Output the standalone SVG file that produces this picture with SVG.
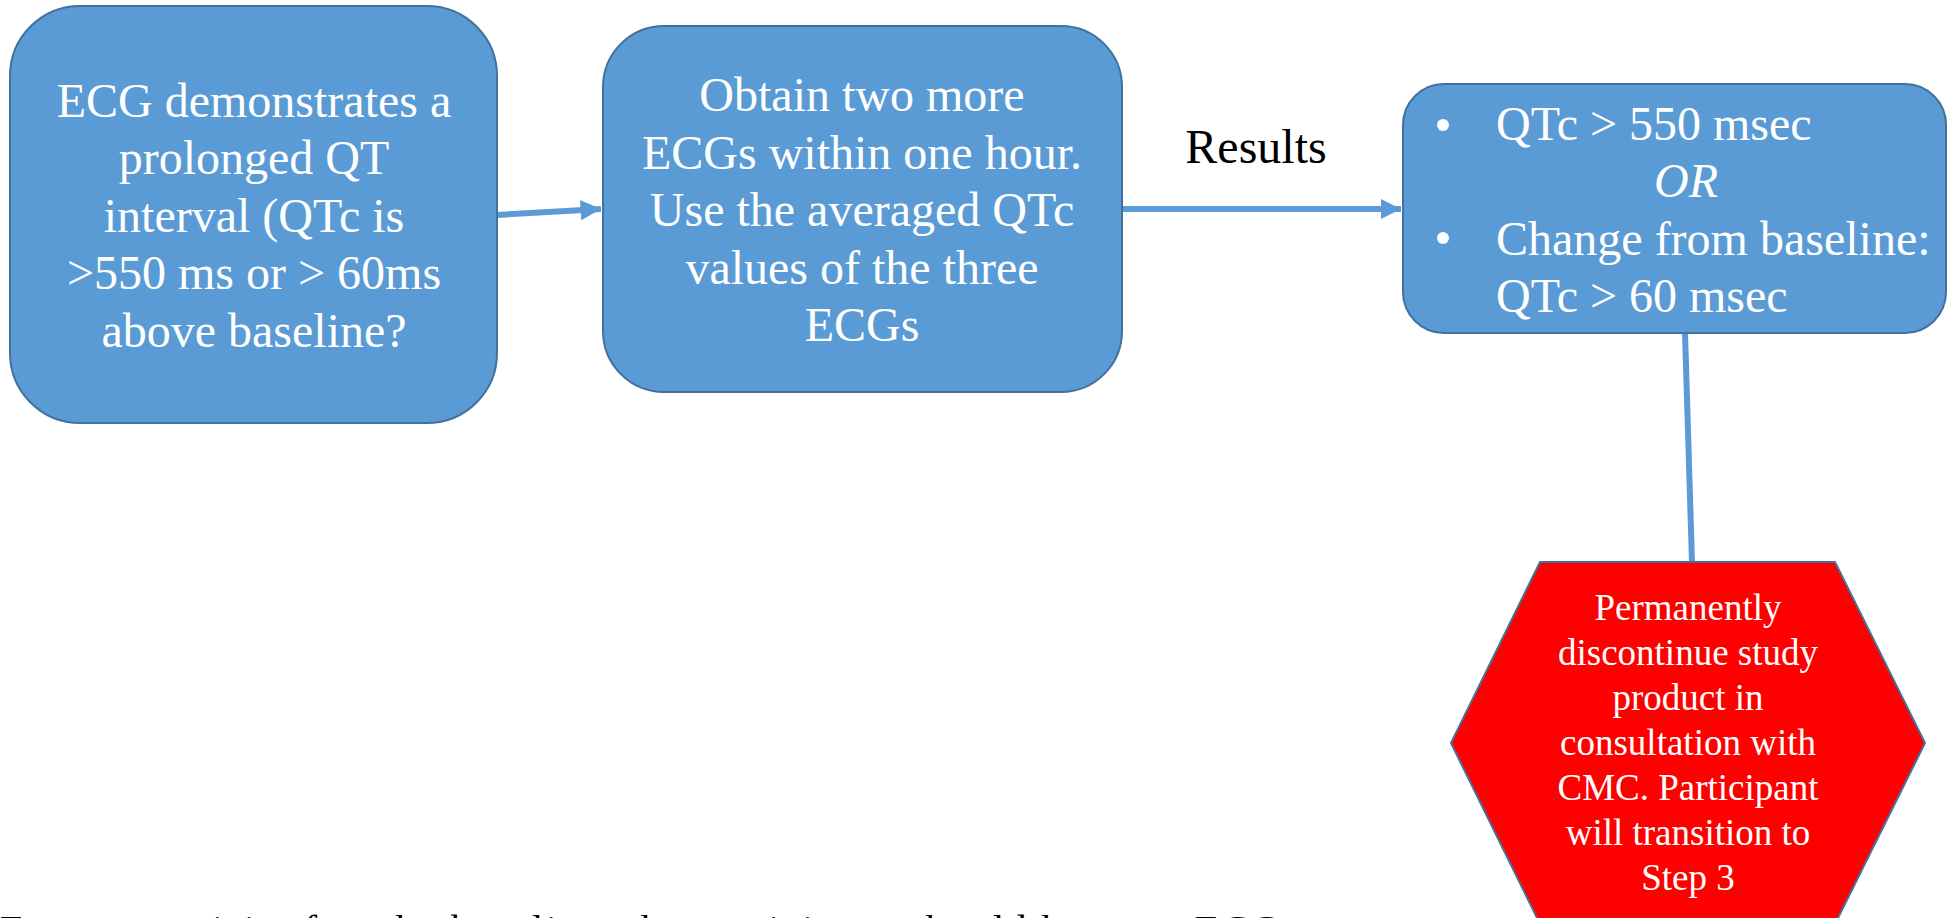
<svg xmlns="http://www.w3.org/2000/svg" width="1947" height="918" viewBox="0 0 1947 918">
  <style>
    .box { fill: #5B9BD5; stroke: #41719C; stroke-width: 2; }
    .hex { fill: #FF0000; stroke: #41719C; stroke-width: 2; }
    .t { font-family: "Liberation Serif", "Times New Roman", serif; fill: #FFFFFF; text-anchor: middle; }
    .t48 { font-size: 48px; }
    .t37 { font-size: 37px; }
    .lbl { font-family: "Liberation Serif", "Times New Roman", serif; font-size: 48px; fill: #000000; }
    .conn { stroke: #5B9BD5; stroke-width: 6; fill: none; }
  </style>
  <defs>
    <marker id="arrow" markerWidth="4" markerHeight="4" refX="3.4" refY="2" orient="auto" markerUnits="strokeWidth">
      <path d="M0,0.3 L3.4,2 L0,3.7 Z" fill="#5B9BD5"/>
    </marker>
  </defs>

  <g id="connectors">
    <line class="conn" x1="497" y1="215" x2="601" y2="209" marker-end="url(#arrow)"/>
    <line class="conn" x1="1122" y1="209" x2="1401" y2="209" marker-end="url(#arrow)"/>
    <line class="conn" x1="1685" y1="333" x2="1692" y2="562"/>
    <text class="lbl" x="1256" y="163" text-anchor="middle">Results</text>
  </g>

  <g id="node-ecg">
    <rect class="box" x="10" y="6" width="487" height="417" rx="70" ry="70"/>
    <text class="t t48" x="254" y="117">ECG demonstrates a</text>
    <text class="t t48" x="254" y="174">prolonged QT</text>
    <text class="t t48" x="254" y="232">interval (QTc is</text>
    <text class="t t48" x="254" y="289">&gt;550 ms or &gt; 60ms</text>
    <text class="t t48" x="254" y="347">above baseline?</text>
  </g>

  <g id="node-obtain">
    <rect class="box" x="603" y="26" width="519" height="366" rx="61" ry="61"/>
    <text class="t t48" x="862" y="111">Obtain two more</text>
    <text class="t t48" x="862" y="169">ECGs within one hour.</text>
    <text class="t t48" x="862" y="226">Use the averaged QTc</text>
    <text class="t t48" x="862" y="284">values of the three</text>
    <text class="t t48" x="862" y="341">ECGs</text>
  </g>

  <g id="node-results">
    <rect class="box" x="1403" y="84" width="543" height="249" rx="41" ry="41"/>
    <circle cx="1443" cy="125" r="6" fill="#FFFFFF"/>
    <text class="t t48" x="1496" y="140" style="text-anchor:start">QTc &gt; 550 msec</text>
    <text class="t t48" x="1686" y="197" font-style="italic">OR</text>
    <circle cx="1443" cy="238" r="6" fill="#FFFFFF"/>
    <text class="t t48" x="1496" y="255" style="text-anchor:start">Change from baseline:</text>
    <text class="t t48" x="1496" y="312" style="text-anchor:start">QTc &gt; 60 msec</text>
  </g>

  <g id="node-discontinue">
    <polygon class="hex" points="1540,562 1835,562 1925,743 1835,924 1540,924 1451,743"/>
    <text class="t t37" x="1688" y="620">Permanently</text>
    <text class="t t37" x="1688" y="665">discontinue study</text>
    <text class="t t37" x="1688" y="710">product in</text>
    <text class="t t37" x="1688" y="755">consultation with</text>
    <text class="t t37" x="1688" y="800">CMC. Participant</text>
    <text class="t t37" x="1688" y="845">will transition to</text>
    <text class="t t37" x="1688" y="890">Step 3</text>
  </g>

  <g id="footnote">
    <text class="lbl" x="0" y="943" style="font-size:40px" textLength="1280" lengthAdjust="spacing">For every visit after the baseline, the participant should have an ECG</text>
  </g>
</svg>
